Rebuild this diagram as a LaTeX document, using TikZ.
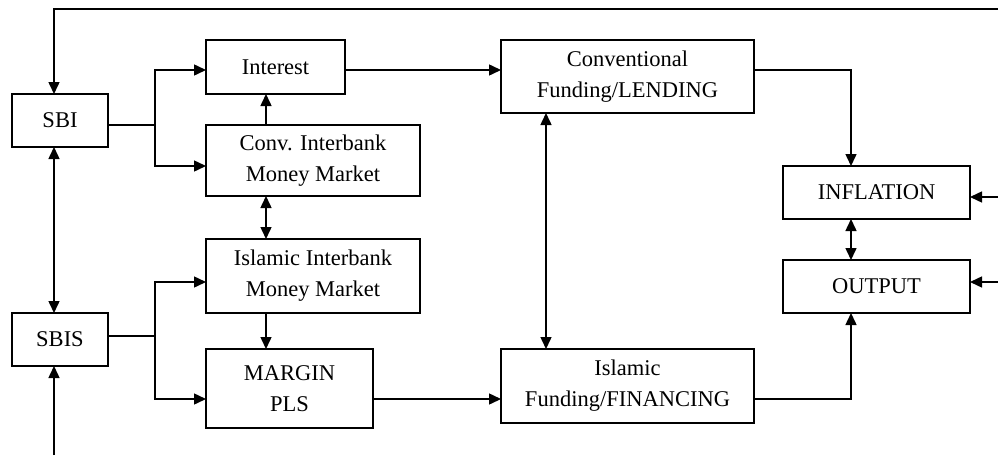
\documentclass[tikz,border=0pt]{standalone}
\usepackage{fontspec}
\setmainfont{Liberation Serif}
\usetikzlibrary{arrows.meta}
\begin{document}
\begin{tikzpicture}[x=1pt,y=-1pt,
  box/.style={draw,line width=1.5pt,inner sep=0pt,outer sep=0pt,align=center,
    font=\fontsize{22.5}{31}\selectfont},
  conn/.style={line width=1.5pt},
  arr/.style={conn,-{Triangle[length=12pt,width=11pt]}},
  darr/.style={conn,{Triangle[length=12pt,width=11pt]}-{Triangle[length=12pt,width=11pt]}}]
\useasboundingbox (0,0) rectangle (998,455);
% nodes
\node[box,minimum width=96pt,minimum height=53pt] (SBI) at (60,120.5) {SBI};
\node[box,minimum width=96pt,minimum height=53pt] (SBIS) at (60,339.5) {SBIS};
\node[box,minimum width=139pt,minimum height=54pt] (Interest) at (275.5,67) {Interest};
\node[box,minimum width=214pt,minimum height=71pt] (Conv) at (313,160.5) {Conv. Interbank\\Money Market};
\node[box,minimum width=214pt,minimum height=74pt] (IslIB) at (313,276) {Islamic Interbank\\Money Market};
\node[box,minimum width=167pt,minimum height=79pt] (Margin) at (289.5,388.5) {MARGIN\\PLS};
\node[box,minimum width=253pt,minimum height=73pt] (ConvF) at (627.5,76.5) {Conventional\\Funding/LENDING};
\node[box,minimum width=253pt,minimum height=74pt] (IslF) at (627.5,386) {Islamic\\Funding/FINANCING};
\node[box,minimum width=187pt,minimum height=53pt] (Infl) at (876.5,192.5) {INFLATION};
\node[box,minimum width=187pt,minimum height=53pt] (Output) at (876.5,286.5) {OUTPUT};
% free ends and junctions
\coordinate (topR) at (998,9);
\coordinate (botS) at (54,455);
\coordinate (rI) at (998,197);
\coordinate (rO) at (998,282);
\coordinate (j1) at (155,125);
\coordinate (j2) at (155,336);
% connectors
\draw[arr] (topR) -| ([xshift=-6pt]SBI.north);
\draw[darr] ([xshift=-6pt]SBI.south) -- ([xshift=-6pt]SBIS.north);
\draw[arr] (botS) -- ([xshift=-6pt]SBIS.south);
\draw[conn] ([yshift=-4.5pt]SBI.east) -- (j1);
\draw[arr] (j1) |- ([yshift=-3pt]Interest.west);
\draw[arr] (j1) |- ([yshift=-5.5pt]Conv.west);
\draw[arr] ([xshift=-47pt]Conv.north) -- ([xshift=-47pt]Conv.north |- Interest.south);
\draw[darr] ([xshift=-47pt]Conv.south) -- ([xshift=-47pt]IslIB.north);
\draw[arr] ([xshift=-47pt]IslIB.south) -- ([xshift=-47pt]IslIB.south |- Margin.north);
\draw[conn] ([yshift=3.5pt]SBIS.east) -- (j2);
\draw[arr] (j2) |- ([yshift=-6pt]IslIB.west);
\draw[arr] (j2) |- ([yshift=-10.5pt]Margin.west);
\draw[arr] ([yshift=-10.5pt]Margin.east) -- ([yshift=-10.5pt]Margin.east -| IslF.west);
\draw[arr] ([yshift=-3pt]Interest.east) -- ([yshift=-3pt]Interest.east -| ConvF.west);
\draw[darr] ([xshift=-81.5pt]ConvF.south) -- ([xshift=-81.5pt]IslF.north);
\draw[arr] ([yshift=6.5pt]ConvF.east) -| ([xshift=-25.5pt]Infl.north);
\draw[darr] ([xshift=-25.5pt]Infl.south) -- ([xshift=-25.5pt]Output.north);
\draw[arr] ([yshift=-13pt]IslF.east) -| ([xshift=-25.5pt]Output.south);
\draw[arr] (rI) -- ([yshift=-4.5pt]Infl.east);
\draw[arr] (rO) -- ([yshift=4.5pt]Output.east);
\end{tikzpicture}
\end{document}
